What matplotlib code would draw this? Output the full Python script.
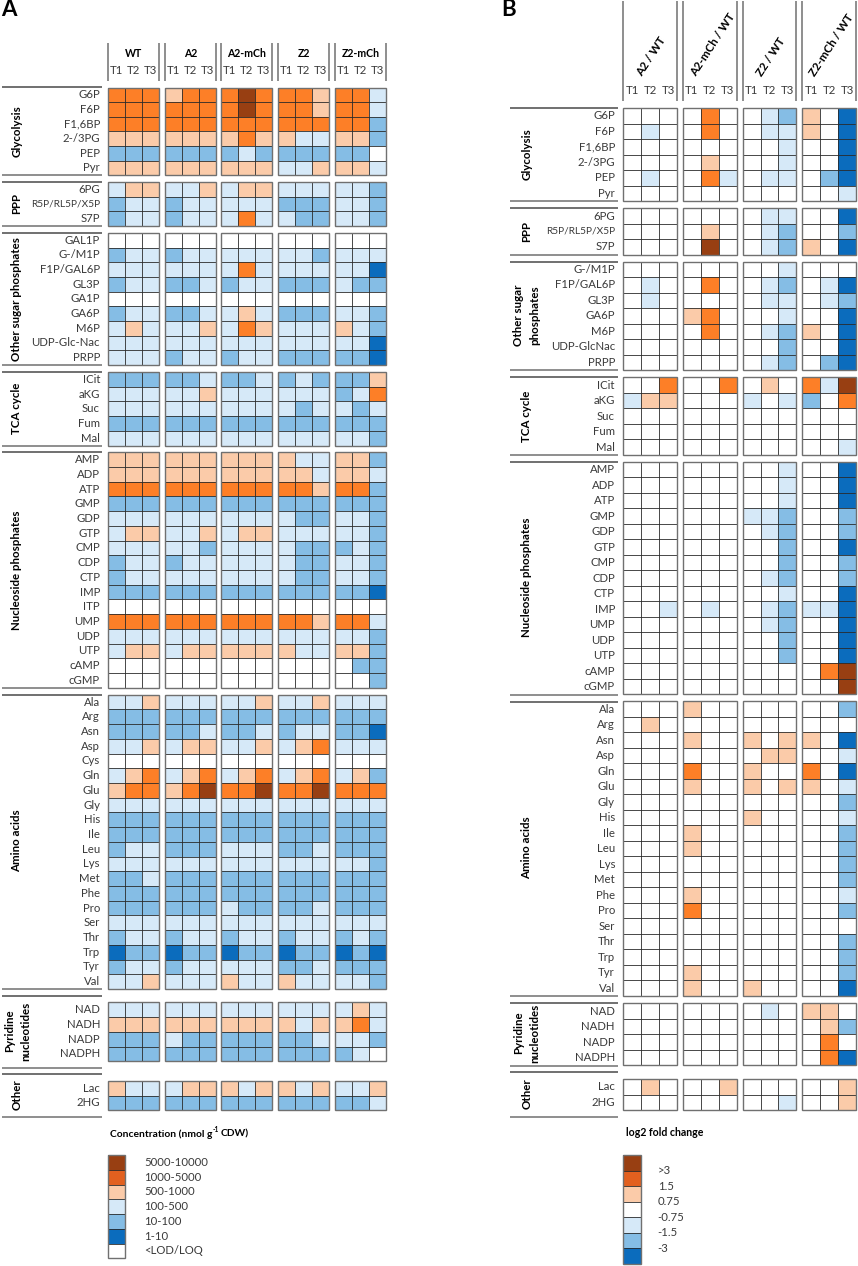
import numpy as np
import matplotlib
matplotlib.use("Agg")
import matplotlib.pyplot as plt
from matplotlib.colors import ListedColormap
from matplotlib.patches import Rectangle

plt.rcParams['font.family'] = ['Lato', 'DejaVu Sans']

# level codes: 0 white, 1 dark blue, 2 mid blue, 3 light blue, 4 peach, 5 orange, 6 brown, 7 legend orange
# each string = one metabolite, one triple per strain (T1 T2 T3)

conditions_a = ["WT", "A2", "A2-mCh", "Z2", "Z2-mCh"]
conditions_b = ["A2 / WT", "A2-mCh / WT", "Z2 / WT", "Z2-mCh / WT"]
timepoints = ["T1", "T2", "T3"]

glycolysis = ["G6P", "F6P", "F1,6BP", "2-/3PG", "PEP", "Pyr"]
ppp = ["6PG", "R5P/RL5P/X5P", "S7P"]
sugars_a = ["GAL1P", "G-/M1P", "F1P/GAL6P", "GL3P", "GA1P", "GA6P", "M6P", "UDP-Glc-Nac", "PRPP"]
sugars_b = ["G-/M1P", "F1P/GAL6P", "GL3P", "GA6P", "M6P", "UDP-GlcNac", "PRPP"]
tca = ["ICit", "aKG", "Suc", "Fum", "Mal"]
nucleotides_a = ["AMP", "ADP", "ATP", "GMP", "GDP", "GTP", "CMP", "CDP", "CTP", "IMP", "ITP", "UMP", "UDP", "UTP", "cAMP", "cGMP"]
nucleotides_b = ["AMP", "ADP", "ATP", "GMP", "GDP", "GTP", "CMP", "CDP", "CTP", "IMP", "UMP", "UDP", "UTP", "cAMP", "cGMP"]
amino_a = ["Ala", "Arg", "Asn", "Asp", "Cys", "Gln", "Glu", "Gly", "His", "Ile", "Leu", "Lys", "Met", "Phe", "Pro", "Ser", "Thr", "Trp", "Tyr", "Val"]
amino_b = ["Ala", "Arg", "Asn", "Asp", "Gln", "Glu", "Gly", "His", "Ile", "Leu", "Lys", "Met", "Phe", "Pro", "Ser", "Thr", "Trp", "Tyr", "Val"]
pyridine = ["NAD", "NADH", "NADP", "NADPH"]
other = ["Lac", "2HG"]

a_glycolysis = ["555 455 565 554 553", "555 555 565 554 553", "555 555 555 555 552",
                "444 444 454 433 442", "222 222 232 222 220", "444 444 444 334 443"]
a_ppp = ["344 334 344 333 332", "233 233 333 222 332", "233 233 353 322 332"]
a_sugars = ["000 000 000 000 000", "233 233 333 332 333", "333 333 353 333 331",
            "233 223 233 222 322", "000 000 000 000 000", "233 223 343 222 332",
            "343 334 354 333 432", "333 333 333 333 331", "333 233 233 222 221"]
a_tca = ["222 223 223 232 224", "333 334 333 333 235", "333 333 333 323 323",
         "222 222 222 222 222", "333 333 333 333 332"]
a_nucleotides = ["444 444 444 433 442", "444 444 444 443 443", "555 555 555 554 552",
                 "222 222 222 222 222", "333 333 333 322 332", "344 334 344 333 332",
                 "333 332 333 322 232", "233 233 333 322 332", "233 333 333 322 332",
                 "222 222 222 222 221", "000 000 000 000 000", "555 555 555 554 553",
                 "333 333 333 333 332", "344 344 444 433 442", "000 000 000 000 022",
                 "000 000 000 000 002"]
a_amino = ["334 333 334 334 333", "222 222 222 222 222", "222 223 223 233 221",
           "334 344 334 345 333", "000 000 000 000 000", "345 345 345 345 342",
           "455 456 556 556 555", "333 333 333 333 333", "222 222 222 222 222",
           "222 222 222 222 222", "233 222 333 223 222", "333 333 333 333 332",
           "223 222 222 222 222", "222 222 222 222 222", "222 222 322 223 222",
           "333 333 333 333 333", "233 233 233 233 232", "122 122 122 122 121",
           "233 233 333 223 222", "334 333 433 433 332"]
a_pyridine = ["333 333 333 333 343", "444 444 444 434 453", "222 322 222 223 332", "222 222 222 222 230"]
a_other = ["433 344 434 434 334", "222 222 222 222 223"]

b_glycolysis = ["000 050 032 401", "030 050 033 401", "000 000 003 001",
                "000 040 003 001", "030 053 033 021", "000 000 000 003"]
b_ppp = ["000 000 033 001", "000 040 032 002", "000 060 032 401"]
b_sugars = ["000 000 003 000", "030 050 032 031", "030 000 033 032", "000 450 003 001",
            "000 050 032 401", "000 000 002 001", "000 000 032 021"]
b_tca = ["005 005 040 536", "344 000 303 205", "000 000 000 000", "000 000 000 000", "000 000 000 003"]
b_nucleotides = ["000 000 003 001", "000 000 003 001", "000 000 003 001", "000 000 332 002",
                 "000 000 032 002", "000 000 002 001", "000 000 002 002", "000 000 032 002",
                 "000 000 003 001", "003 030 032 331", "000 000 032 001", "000 000 002 001",
                 "000 000 002 001", "000 000 000 056", "000 000 000 006"]
b_amino = ["000 400 000 002", "040 000 000 000", "000 400 404 401", "000 000 044 003",
           "000 500 400 501", "000 400 404 403", "000 000 000 002", "000 000 400 003",
           "000 400 000 002", "000 400 000 002", "000 000 000 002", "000 000 000 002",
           "000 400 000 003", "000 500 000 002", "000 000 000 000", "000 000 000 002",
           "000 000 000 002", "000 400 000 002", "000 400 400 001"]
b_pyridine = ["000 000 030 440", "000 000 000 042", "000 000 000 050", "000 000 000 051"]
b_other = ["040 004 000 004", "000 000 003 004"]

legend_labels_a = ["5000-10000", "1000-5000", "500-1000", "100-500", "10-100", "1-10", "<LOD/LOQ"]
legend_levels_a = [6, 7, 4, 3, 2, 1, 0]
legend_labels_b = [">3", "1.5", "0.75", "-0.75", "-1.5", "-3"]
legend_levels_b = [6, 7, 4, 0, 3, 2, 1]

colors = ["#ffffff", "#0b6cbd", "#85bde5", "#d6e9f8", "#fbcba9", "#fd7f27", "#983f12", "#e2601f"]
cmap = ListedColormap(colors)
GREY = "#707070"
TEXT = "#3a3a3a"
LABEL_SIZE = 8.2
HEAD_SIZE = 7.6
# this one is all capitals and runs into the group title otherwise
SMALL_LABELS = {"R5P/RL5P/X5P": 7.3}

fig = plt.figure(figsize=(8.58, 12.66), dpi=100)
ax = fig.add_axes([0, 0, 1, 1])
ax.set_xlim(0, 858)
ax.set_ylim(1266, 0)
ax.axis("off")


def to_levels(rows):
    return np.array([[int(c) for c in r.replace(" ", "")] for r in rows])


def draw_cells(x0, x1, y0, y1, levels):
    n_rows, n_cols = levels.shape
    xs = np.linspace(x0, x1, n_cols + 1)
    ys = np.linspace(y0, y1, n_rows + 1)
    ax.pcolormesh(xs, ys, levels, cmap=cmap, vmin=-0.5, vmax=7.5, linewidth=0)
    ax.vlines(xs[1:-1], y0, y1, color="#2a2a2a", lw=0.6, zorder=2)
    ax.hlines(ys[1:-1], x0, x1, color="#2a2a2a", lw=0.6, zorder=2)
    ax.add_patch(Rectangle((x0, y0), x1 - x0, y1 - y0, fill=False, ec=GREY, lw=1.0, zorder=3))


def draw_panel(blocks, col_spans, label_x, line_x):
    for b in blocks:
        levels = to_levels(b["rows"])
        y0, y1 = b["y"]
        for k, (x0, x1) in enumerate(col_spans):
            draw_cells(x0, x1, y0, y1, levels[:, 3 * k:3 * k + 3])
        row_h = (y1 - y0) / len(b["names"])
        for i, name in enumerate(b["names"]):
            ax.text(label_x, y0 + (i + 0.5) * row_h, name, ha="right", va="center",
                    fontsize=SMALL_LABELS.get(name, LABEL_SIZE), color=TEXT)
        for yl, lw in zip(b["lines"], (1.4, 1.1)):
            ax.plot(line_x, [yl, yl], color=GREY, lw=lw, solid_capstyle="butt")
        lx = b["lx"]
        if isinstance(b["title"], str):
            ax.text(lx, b["ty"], b["title"], rotation=90, ha="center", va="center",
                    fontsize=8.3, fontweight="bold", color="black")
        else:
            for xt, t in zip(lx, b["title"]):
                ax.text(xt, b["ty"], t, rotation=90, ha="center", va="center",
                        fontsize=8.3, fontweight="bold", color="black")


# panel A
spans_a = [(108, 159), (164.7, 215.7), (221.3, 272.3), (278, 329), (335, 386)]
blocks_a = [
    dict(names=glycolysis, rows=a_glycolysis, y=(87.5, 175.3), lines=(86.5, 175.3), title="Glycolysis", lx=17, ty=131),
    dict(names=ppp, rows=a_ppp, y=(182, 226), lines=(182, 226), title="PPP", lx=17, ty=203),
    dict(names=sugars_a, rows=a_sugars, y=(233, 365), lines=(233, 365), title="Other sugar phosphates", lx=17, ty=299),
    dict(names=tca, rows=a_tca, y=(372, 445.7), lines=(371.5, 445.7), title="TCA cycle", lx=17, ty=408),
    dict(names=nucleotides_a, rows=a_nucleotides, y=(452.3, 687.7), lines=(452.3, 687.7), title="Nucleoside phosphates", lx=17, ty=570),
    dict(names=amino_a, rows=a_amino, y=(694.7, 989), lines=(694.7, 989), title="Amino acids", lx=17, ty=841),
    dict(names=pyridine, rows=a_pyridine, y=(1002.3, 1061.3), lines=(995.7, 1067.7), title=("Pyridine", "nucleotides"), lx=(10, 26), ty=1031),
    dict(names=other, rows=a_other, y=(1081, 1110.3), lines=(1074.3, 1117), title="Other", lx=17, ty=1095),
]
draw_panel(blocks_a, spans_a, 100, [2, 102])

for (x0, x1), name in zip(spans_a, conditions_a):
    for x in (x0, x1):
        ax.plot([x, x], [43, 81], color=GREY, lw=1.1, solid_capstyle="butt")
    ax.text((x0 + x1) / 2, 53.5, name, ha="center", va="center", fontsize=HEAD_SIZE, fontweight="bold", color="black")
    for k, t in enumerate(timepoints):
        ax.text(x0 + (k + 0.5) * (x1 - x0) / 3, 71, t, ha="center", va="center", fontsize=LABEL_SIZE, color=TEXT)

# panel B
spans_b = [(623.3, 677.3), (683, 736.7), (742.7, 796.3), (802.3, 856)]
blocks_b = [
    dict(names=glycolysis, rows=b_glycolysis, y=(108, 201), lines=(108, 201), title="Glycolysis", lx=527, ty=154),
    dict(names=ppp, rows=b_ppp, y=(208.3, 254.7), lines=(208, 254.7), title="PPP", lx=527, ty=231),
    dict(names=sugars_b, rows=b_sugars, y=(261.7, 370), lines=(262, 370), title=("Other sugar", "phosphates"), lx=(519, 535), ty=315.5),
    dict(names=tca, rows=b_tca, y=(377.3, 455), lines=(377, 455), title="TCA cycle", lx=527, ty=416),
    dict(names=nucleotides_b, rows=b_nucleotides, y=(462, 694.3), lines=(462, 694.5), title="Nucleoside phosphates", lx=527, ty=577),
    dict(names=amino_b, rows=b_amino, y=(701.3, 996), lines=(701.5, 996), title="Amino acids", lx=527, ty=848),
    dict(names=pyridine, rows=b_pyridine, y=(1003.3, 1065.3), lines=(1003, 1065.5), title=("Pyridine", "nucleotides"), lx=(519, 535), ty=1033),
    dict(names=other, rows=b_other, y=(1079, 1110.3), lines=(1072.3, 1117), title="Other", lx=527, ty=1094),
]
draw_panel(blocks_b, spans_b, 615, [510, 617.7])

title_starts_b = [639, 693, 759.5, 811.7]
for (x0, x1), name, xs in zip(spans_b, conditions_b, title_starts_b):
    for x in (x0, x1):
        ax.plot([x, x], [1, 101], color=GREY, lw=1.1, solid_capstyle="butt")
    ax.text(xs, 75, name, rotation=57, rotation_mode="anchor", ha="left", va="center",
            fontsize=8.3, fontweight="bold", color="black")
    for k, t in enumerate(timepoints):
        ax.text(x0 + (k + 0.5) * (x1 - x0) / 3, 91, t, ha="center", va="center", fontsize=LABEL_SIZE, color=TEXT)

# legends
# the title is three pieces because of the superscript, so lay them out from the measured widths
renderer = fig.canvas.get_renderer()
t1 = ax.text(110, 1134, "Concentration (nmol g", ha="left", va="center", fontsize=7.4, fontweight="bold", color="black")
x_end = t1.get_window_extent(renderer).x1
t2 = ax.text(x_end + 0.5, 1129.5, "-1", ha="left", va="center", fontsize=4.8, fontweight="bold", color="black")
x_end = t2.get_window_extent(renderer).x1
ax.text(x_end + 1.5, 1134, "CDW)", ha="left", va="center", fontsize=7.4, fontweight="bold", color="black")
draw_cells(108, 125, 1155, 1258.3, np.array(legend_levels_a).reshape(-1, 1))
row_h = (1258.3 - 1155) / len(legend_levels_a)
for i, t in enumerate(legend_labels_a):
    ax.text(144, 1155 + (i + 0.5) * row_h, t, ha="left", va="center", fontsize=LABEL_SIZE, color=TEXT)

ax.text(625.7, 1132.7, "log2 fold change", ha="left", va="center", fontsize=HEAD_SIZE, fontweight="bold", color="black")
draw_cells(623.3, 641.3, 1155.3, 1264, np.array(legend_levels_b).reshape(-1, 1))
row_h = (1264 - 1155.3) / len(legend_levels_b)
for i, t in enumerate(legend_labels_b):
    ax.text(657.7, 1155.3 + (i + 1) * row_h, t, ha="left", va="center", fontsize=LABEL_SIZE, color=TEXT)

# panel letters
ax.text(1, 10, "A", ha="left", va="center", fontsize=16, fontweight="bold", color="black")
ax.text(501, 10, "B", ha="left", va="center", fontsize=16, fontweight="bold", color="black")

fig.savefig("out.png", dpi=100)
